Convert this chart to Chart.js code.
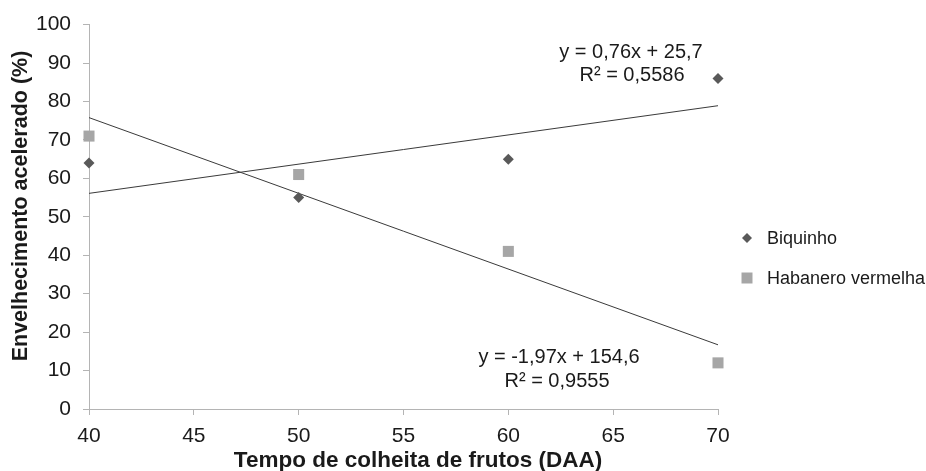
<!DOCTYPE html>
<html>
<head>
<meta charset="utf-8">
<script src="https://cdn.jsdelivr.net/npm/chart.js@4"></script>
<style>
html,body{margin:0;padding:0;background:#fff;}
#wrap{width:926px;height:471px;}
</style>
</head>
<body>
<div id="wrap"><canvas id="c" width="926" height="471"></canvas></div>
<script>
const days = [40, 50, 60, 70];
const biquinho = [64, 55, 65, 86];
const habanero = [71, 61, 41, 12];
const seriesNames = ['Biquinho', 'Habanero vermelha'];
const trendSlope = [0.76, -1.97];
const trendIntercept = [25.7, 154.6];
const equationLines = [
  ['y = 0,76x + 25,7', 'R² = 0,5586'],
  ['y = -1,97x + 154,6', 'R² = 0,9555']
];
const xTitle = 'Tempo de colheita de frutos (DAA)';
const yTitle = 'Envelhecimento acelerado (%)';

const FONT = '"Liberation Sans", Arial, sans-serif';
const colors = ['#595959', '#a6a6a6'];
const axisColor = '#b4b4b4';
const textColor = '#1a1a1a';

const xMin = Math.min(...days), xMax = Math.max(...days);
function trend(i){
  return [xMin, xMax].map(x => ({x: x, y: trendSlope[i]*x + trendIntercept[i]}));
}

const overlay = {
  id: 'overlay',
  afterDraw(chart){
    const ctx = chart.ctx;
    ctx.save();
    // axis titles
    ctx.fillStyle = textColor;
    ctx.textBaseline = 'middle';
    ctx.textAlign = 'center';
    ctx.font = 'bold 22.5px ' + FONT;
    ctx.fillText(xTitle, 418, 461);
    ctx.save();
    ctx.translate(21, 206);
    ctx.rotate(-Math.PI/2);
    ctx.font = 'bold 21.5px ' + FONT;
    ctx.fillText(yTitle, 0, 0);
    ctx.restore();
    // legend
    const lx = 747, ly = [238, 278];
    ctx.font = '18px ' + FONT;
    ctx.textAlign = 'left';
    seriesNames.forEach((n, i) => {
      ctx.fillStyle = colors[i];
      ctx.beginPath();
      if (i === 0) {
        const r = 5;
        ctx.moveTo(lx, ly[i]-r); ctx.lineTo(lx+r, ly[i]); ctx.lineTo(lx, ly[i]+r); ctx.lineTo(lx-r, ly[i]);
        ctx.closePath();
      } else {
        ctx.rect(lx-5.5, ly[i]-5.5, 11, 11);
      }
      ctx.fill();
      ctx.fillStyle = textColor;
      ctx.fillText(n, 767, ly[i]+1);
    });
    // trendline equations
    ctx.font = '20px ' + FONT;
    ctx.textAlign = 'center';
    ctx.fillStyle = textColor;
    const pos = [[631, 52, 632, 75], [559, 357, 557, 381]];
    equationLines.forEach((lines, i) => {
      ctx.fillText(lines[0], pos[i][0], pos[i][1]);
      ctx.fillText(lines[1], pos[i][2], pos[i][3]);
    });
    ctx.restore();
  }
};

new Chart(document.getElementById('c'), {
  type: 'scatter',
  data: {
    datasets: [
      {label: seriesNames[0], data: days.map((d,i)=>({x:d,y:biquinho[i]})), pointStyle:'rectRot', pointRadius:5.5, pointHoverRadius:5.5, backgroundColor:colors[0], borderColor:colors[0], borderWidth:0, order:1, clip:false},
      {label: seriesNames[1], data: days.map((d,i)=>({x:d,y:habanero[i]})), pointStyle:'rect', pointRadius:7.8, pointHoverRadius:7.8, backgroundColor:colors[1], borderColor:colors[1], borderWidth:0, order:2, clip:false},
      {type:'line', label:'t1', data: trend(0), borderColor:'#3a3a3a', borderWidth:1, pointRadius:0, fill:false, order:3},
      {type:'line', label:'t2', data: trend(1), borderColor:'#3a3a3a', borderWidth:1, pointRadius:0, fill:false, order:3}
    ]
  },
  options: {
    responsive:false,
    animation:false,
    layout:{padding:{top:16, right:208, left:9, bottom:0}},
    plugins:{legend:{display:false}, tooltip:{enabled:false}},
    scales:{
      x:{
        type:'linear', min:40, max:70,
        afterFit(s){ s.height = 62; },
        ticks:{stepSize:5, color:textColor, font:{family:FONT, size:21}, padding:9},
        grid:{drawOnChartArea:false, drawTicks:true, tickLength:6, color:axisColor},
        border:{color:axisColor, width:1},
        title:{display:false}
      },
      y:{
        min:0, max:100,
        afterFit(s){ s.width = 80; },
        ticks:{stepSize:10, color:textColor, font:{family:FONT, size:21}, padding:12},
        grid:{drawOnChartArea:false, drawTicks:true, tickLength:6, color:axisColor},
        border:{color:axisColor, width:1},
        title:{display:false}
      }
    }
  },
  plugins:[overlay]
});
</script>
</body>
</html>
